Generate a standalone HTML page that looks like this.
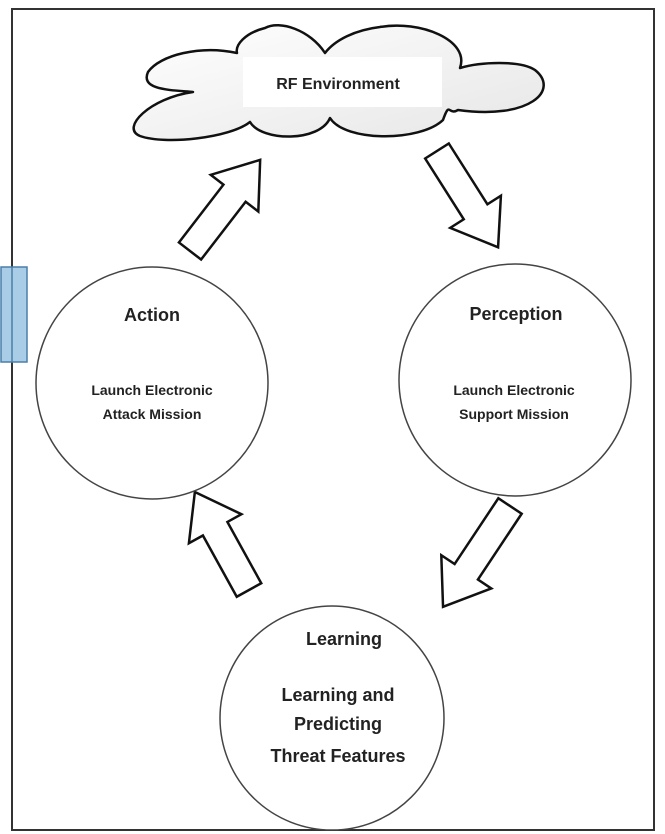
<!DOCTYPE html>
<html><head><meta charset="utf-8"><style>
html,body{margin:0;padding:0;background:#fff;}
svg{display:block;}
text{font-family:"Liberation Sans",sans-serif;font-weight:bold;fill:#222;text-anchor:middle;}
</style></head><body>
<svg width="665" height="834" viewBox="0 0 665 834">
<rect x="12" y="9" width="642" height="821" fill="#fff" stroke="#333" stroke-width="2"/>
<rect x="1" y="267" width="26" height="95" fill="#a9cde6" stroke="#4a7fa8" stroke-width="1.5"/>
<line x1="12" y1="267" x2="12" y2="362" stroke="#4a7fa8" stroke-width="1.5"/>
<defs><linearGradient id="g" x1="0" y1="0" x2="1" y2="1"><stop offset="0" stop-color="#fff"/><stop offset="1" stop-color="#e6e6e6"/></linearGradient></defs>
<path d="M193,92 C150,98 120,128 140,136 C165,145 230,138 250,122 C262,142 320,142 330,118 C345,142 420,142 443,120 C450,100 448,116 458,110 C530,120 560,90 535,70 C520,60 480,62 460,68 C470,40 420,20 380,27 C355,30 335,40 325,53 C310,30 280,20 265,28 C245,33 235,45 237,53 C200,45 160,55 148,72 C140,90 170,90 193,92 Z" fill="url(#g)" stroke="#111" stroke-width="2.5" stroke-linejoin="round"/>
<rect x="243" y="57" width="199" height="50" fill="#fff"/>
<text x="338" y="89" font-size="16">RF Environment</text>
<g fill="#fff" stroke="#111" stroke-width="2.5" stroke-linejoin="miter">
<polygon transform="translate(190,251) rotate(-52.4)" points="0,-14 73,-14 73,-30 115,0 73,30 73,14 0,14"/>
<polygon transform="translate(437,151) rotate(57.6)" points="0,-14 72,-14 72,-30 114,0 72,30 72,14 0,14"/>
<polygon transform="translate(510,506) rotate(123.6)" points="0,-14 79,-14 79,-30 121,0 79,30 79,14 0,14"/>
<polygon transform="translate(249,590) rotate(-118.9)" points="0,-14 70,-14 70,-30 112,0 70,30 70,14 0,14"/>
</g>
<g fill="#fff" stroke="#444" stroke-width="1.5">
<circle cx="152" cy="383" r="116"/>
<circle cx="515" cy="380" r="116"/>
<circle cx="332" cy="718" r="112"/>
</g>
<text x="152" y="321" font-size="18">Action</text>
<text x="152" y="395" font-size="14">Launch Electronic</text>
<text x="152" y="419" font-size="14">Attack Mission</text>
<text x="516" y="320" font-size="18">Perception</text>
<text x="514" y="395" font-size="14">Launch Electronic</text>
<text x="514" y="419" font-size="14">Support Mission</text>
<text x="344" y="645" font-size="18">Learning</text>
<text x="338" y="701" font-size="18">Learning and</text>
<text x="338" y="730" font-size="18">Predicting</text>
<text x="338" y="762" font-size="18">Threat Features</text>
</svg>
</body></html>
